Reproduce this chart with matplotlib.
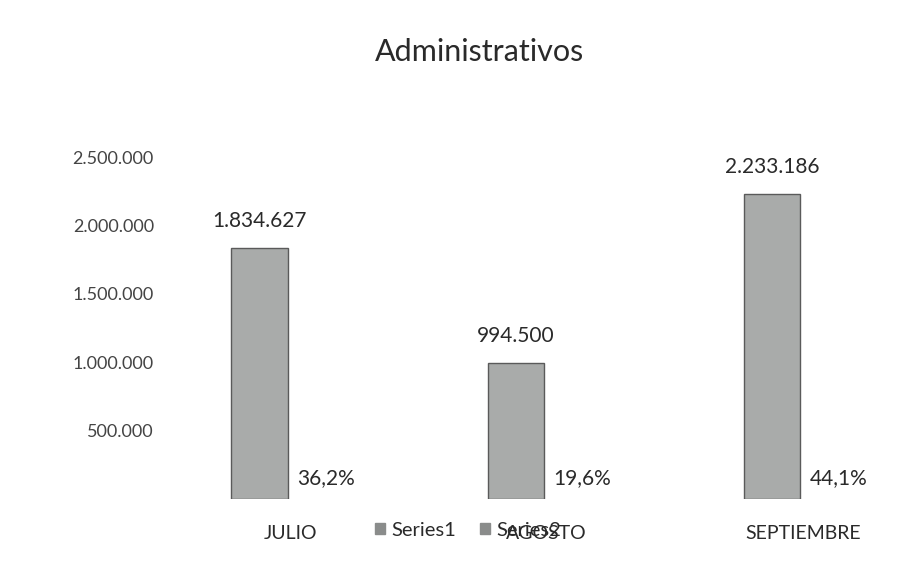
import matplotlib.pyplot as plt
import numpy as np
from matplotlib.patches import Patch

plt.rcParams['font.family'] = ['Lato', 'DejaVu Sans']

# data
meses = ["JULIO", "AGOSTO", "SEPTIEMBRE"]
montos = [1834627, 994500, 2233186]
porcentajes = [36.2, 19.6, 44.1]
y_ticks = [500000, 1000000, 1500000, 2000000, 2500000]


def miles(v):
    return f"{int(v):,}".replace(",", ".")


fig = plt.figure(figsize=(9.22, 5.65), dpi=100)
ax = fig.add_axes([0.176, 0.117, 0.834, 0.605])

x = np.arange(len(meses))
w = 0.22
bar_col = "#a9abaa"
edge_col = "#5a5a5a"
txt_col = "#2a2a2a"

b1 = ax.bar(x - 0.12, montos, width=w, color=bar_col, edgecolor=edge_col, linewidth=1.0)
b2 = ax.bar(x + 0.12, [p / 100 for p in porcentajes], width=w, color=bar_col,
            edgecolor=edge_col, linewidth=0.5)

for rect, v in zip(b1, montos):
    ax.annotate(miles(v), (rect.get_x() + rect.get_width() / 2, v),
                xytext=(0, 12), textcoords="offset points", ha="center", va="bottom",
                fontsize=15, color=txt_col)

for rect, p in zip(b2, porcentajes):
    ax.annotate(f"{p:.1f}%".replace(".", ","), (rect.get_x() + rect.get_width() / 2 + 0.02, 0),
                xytext=(0, 15), textcoords="offset points", ha="center", va="center",
                fontsize=15, color=txt_col)

ax.set_ylim(0, 2500000)
ax.set_xlim(-0.5, 2.5)
ax.set_yticks(y_ticks)
ax.set_yticklabels([miles(t) for t in y_ticks], fontsize=13, color="#444444")
ax.set_xticks(x)
ax.set_xticklabels(meses, fontsize=14, color=txt_col)
ax.tick_params(axis="both", length=0)
ax.tick_params(axis="x", pad=19)
ax.tick_params(axis="y", pad=6)
for s in ax.spines.values():
    s.set_visible(False)

fig.text(0.52, 1 - 52 / 565, "Administrativos", ha="center", va="center",
         fontsize=22, color=txt_col)

handles = [Patch(facecolor="#8a8c8b", edgecolor="#8a8c8b", label="Series1"),
           Patch(facecolor="#8a8c8b", edgecolor="#8a8c8b", label="Series2")]
fig.legend(handles=handles, loc="center", bbox_to_anchor=(468 / 922, 1 - 530 / 565),
           ncol=2, frameon=False, fontsize=14.5, handlelength=0.5, handleheight=0.5,
           handletextpad=0.3, columnspacing=1.2, labelcolor=txt_col)

fig.savefig("out.png", dpi=100, facecolor="white")
